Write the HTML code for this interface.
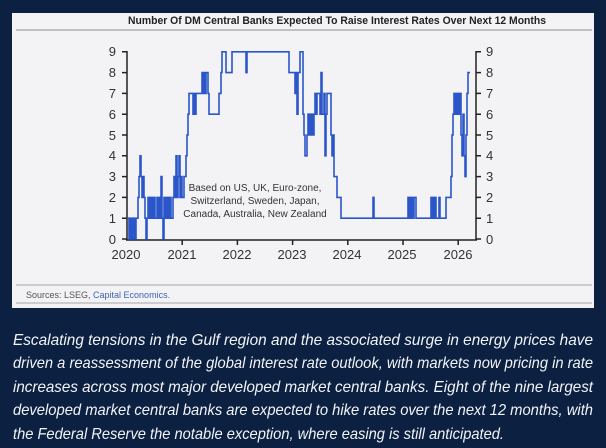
<!DOCTYPE html>
<html><head><meta charset="utf-8"><style>
html,body{margin:0;padding:0;background:#0c2041;}
svg{display:block}
</style></head><body>
<svg width="606" height="448" xmlns="http://www.w3.org/2000/svg" font-family="Liberation Sans, sans-serif">
<rect width="606" height="448" fill="#0c2041"/>
<rect x="12" y="13" width="582" height="295" fill="#f3f3f5"/>
<text x="337" y="24" text-anchor="middle" font-size="11" font-weight="bold" fill="#222" textLength="418" lengthAdjust="spacingAndGlyphs">Number Of DM Central Banks Expected To Raise Interest Rates Over Next 12 Months</text>
<line x1="16" y1="30" x2="592" y2="30" stroke="#c0c0c4" stroke-width="2"/>
<g stroke="#222" stroke-width="1.5" fill="none">
<line x1="127" y1="51" x2="127" y2="240"/>
<line x1="476" y1="51" x2="476" y2="240"/>
<line x1="126" y1="240" x2="477" y2="240"/>
<path d="M122 51.8H127M122 72.6H127M122 93.4H127M122 114.2H127M122 135H127M122 155.8H127M122 176.6H127M122 197.4H127M122 218.2H127M122 239H127"/>
<path d="M476 51.8H481M476 72.6H481M476 93.4H481M476 114.2H481M476 135H481M476 155.8H481M476 176.6H481M476 197.4H481M476 218.2H481M476 239H481"/>
<path d="M182.2 240V245M237.4 240V245M292.6 240V245M347.8 240V245M403 240V245M458.2 240V245"/>
</g>
<g font-size="13" fill="#333" text-anchor="end">
<text x="116" y="56">9</text><text x="116" y="77">8</text><text x="116" y="98">7</text><text x="116" y="119">6</text><text x="116" y="140">5</text><text x="116" y="160">4</text><text x="116" y="181">3</text><text x="116" y="202">2</text><text x="116" y="223">1</text><text x="116" y="244">0</text>
</g>
<g font-size="13" fill="#333">
<text x="486" y="56">9</text><text x="486" y="77">8</text><text x="486" y="98">7</text><text x="486" y="119">6</text><text x="486" y="140">5</text><text x="486" y="160">4</text><text x="486" y="181">3</text><text x="486" y="202">2</text><text x="486" y="223">1</text><text x="486" y="244">0</text>
</g>
<g font-size="13" fill="#333" text-anchor="middle">
<text x="126" y="259">2020</text><text x="182" y="259">2021</text><text x="237" y="259">2022</text><text x="292" y="259">2023</text><text x="347" y="259">2024</text><text x="402" y="259">2025</text><text x="458" y="259">2026</text>
</g>
<g font-size="10" fill="#333" text-anchor="middle">
<text x="255" y="191">Based on US, UK,  Euro-zone,</text>
<text x="255" y="204">Switzerland, Sweden, Japan,</text>
<text x="255" y="217">Canada, Australia, New Zealand</text>
</g>
<path fill="none" stroke="#2b56c9" stroke-width="1.6" d="M127 218.2 H129 V239 H130 V218.2 H131 V239 H132 V218.2 H133 V239 H134 V218.2 H135 V239 H136 V218.2 H138 V197.4 H139 V176.6 H140 V155.8 H141 V176.6 H142 V197.4 H143 V176.6 H144 V197.4 H145 V218.2 H146 V239 H147 V218.2 H148 V197.4 H149 V218.2 H150 V197.4 H151 V218.2 H152 V197.4 H153 V218.2 H154 V197.4 H155 V218.2 H157 V197.4 H158 V218.2 H159 V197.4 H160 V218.2 H161 V176.6 H162 V218.2 H163 V239 H164 V197.4 H165 V218.2 H166 V197.4 H167 V218.2 H168 V197.4 H169 V218.2 H170 V197.4 H171 V218.2 H173 V197.4 H174 V176.6 H175 V197.4 H176 V155.8 H177 V197.4 H178 V176.6 H179 V155.8 H180 V197.4 H181 V176.6 H182 V197.4 H184 V176.6 H186 V155.8 H187 V135 H188 V114.2 H189 V93.4 H193 V114.2 H194 V93.4 H195 V114.2 H196 V93.4 H202 V72.6 H203 V93.4 H204 V72.6 H205 V93.4 H206 V72.6 H208 V93.4 H209 V114.2 H219 V93.4 H221 V72.6 H222 V51.8 H226 V72.6 H232 V51.8 H246 V72.6 H247 V51.8 H289 V72.6 H295 V93.4 H296 V72.6 H297 V114.2 H298 V72.6 H300 V51.8 H303 V114.2 H304 V135 H305 V155.8 H307 V135 H308 V114.2 H309 V135 H310 V114.2 H311 V135 H312 V114.2 H313 V135 H314 V114.2 H315 V93.4 H316 V114.2 H317 V93.4 H320 V114.2 H321 V72.6 H322 V114.2 H324 V93.4 H325 V155.8 H326 V114.2 H327 V93.4 H331 V135 H332 V155.8 H333 V135 H334 V176.6 H337 V197.4 H341 V218.2 H373 V197.4 H374 V218.2 H408 V197.4 H409 V218.2 H410 V197.4 H411 V218.2 H412 V197.4 H413 V218.2 H414 V197.4 H416 V218.2 H431 V197.4 H432 V218.2 H433 V197.4 H434 V218.2 H435 V197.4 H436 V218.2 H439 V197.4 H440 V218.2 H446 V197.4 H451 V176.6 H452 V135 H453 V114.2 H454 V93.4 H455 V114.2 H456 V93.4 H457 V114.2 H458 V93.4 H459 V114.2 H460 V93.4 H461 V135 H462 V155.8 H463 V114.2 H464 V155.8 H465 V176.6 H466 V135 H467 V93.4 H468 V72.6 H470"/>
<line x1="16" y1="285" x2="592" y2="285" stroke="#c0c0c4" stroke-width="1.5"/>
<line x1="16" y1="303" x2="592" y2="303" stroke="#c0c0c4" stroke-width="1.5"/>
<text x="26" y="298" font-size="9" fill="#555">Sources: LSEG, <tspan fill="#3d62b5">Capital Economics.</tspan></text>
<g font-size="16" font-style="italic" fill="#f2f4f8" font-family="Liberation Sans Narrow, Liberation Sans, sans-serif">
<text x="13" y="345" textLength="580" lengthAdjust="spacingAndGlyphs">Escalating tensions in the Gulf region and the associated surge in energy prices have</text>
<text x="13" y="368" textLength="580" lengthAdjust="spacingAndGlyphs">driven a reassessment of the global interest rate outlook, with markets now pricing in rate</text>
<text x="13" y="392" textLength="580" lengthAdjust="spacingAndGlyphs">increases across most major developed market central banks. Eight of the nine largest</text>
<text x="13" y="415" textLength="580" lengthAdjust="spacingAndGlyphs">developed market central banks are expected to hike rates over the next 12 months, with</text>
<text x="13" y="439" textLength="491" lengthAdjust="spacingAndGlyphs">the Federal Reserve the notable exception, where easing is still anticipated.</text>
</g>
</svg>
</body></html>
